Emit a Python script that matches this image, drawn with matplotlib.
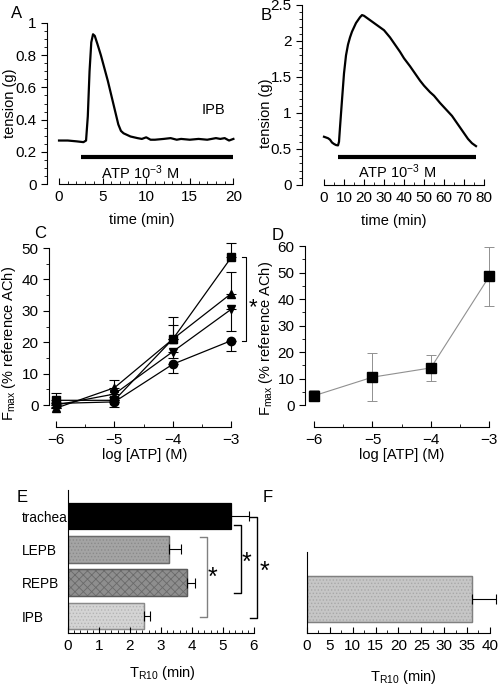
import numpy as np
import matplotlib
matplotlib.use("Agg")
import matplotlib.pyplot as plt
from matplotlib.ticker import FixedLocator

plt.rcParams['font.family'] = ['Liberation Sans', 'DejaVu Sans']
plt.rcParams['mathtext.fontset'] = 'custom'
plt.rcParams['mathtext.rm'] = 'Liberation Sans'
plt.rcParams['mathtext.it'] = 'Liberation Sans:italic'
plt.rcParams['font.size'] = 10
plt.rcParams['hatch.linewidth'] = 0.6

# ---------------- data ----------------
# Panel A trace (IPB)
a_time = [0, 1, 2, 2.8, 3.1, 3.3, 3.5, 3.7, 3.9, 4.1, 4.4, 4.8, 5.2, 5.6, 6.0, 6.4, 6.8, 7.1, 7.4,
          7.8, 8.2, 8.6, 9.0, 9.5, 10, 10.5, 11, 12, 12.8, 13.5, 14, 15, 16, 17, 18, 18.5, 19, 19.5, 20]
a_tension = [0.27, 0.27, 0.265, 0.26, 0.27, 0.42, 0.70, 0.88, 0.93, 0.92, 0.87, 0.80, 0.72, 0.64, 0.55,
             0.46, 0.37, 0.33, 0.315, 0.305, 0.295, 0.29, 0.285, 0.28, 0.29, 0.275, 0.275, 0.28, 0.285,
             0.275, 0.28, 0.275, 0.28, 0.275, 0.285, 0.28, 0.285, 0.27, 0.28]
a_atp_bar = [2.5, 20]

# Panel B trace (trachea)
b_time = [0, 1, 2, 3, 4, 5, 6, 7, 7.5, 8, 9, 10, 11, 12, 13, 14, 16, 18, 19, 20, 22, 25, 28, 30, 33,
          35, 38, 40, 43, 45, 48, 50, 53, 55, 58, 60, 64, 68, 70, 72, 74, 76]
b_tension = [0.67, 0.66, 0.65, 0.63, 0.59, 0.57, 0.555, 0.55, 0.6, 0.8, 1.18, 1.55, 1.8, 1.95, 2.05, 2.13,
             2.25, 2.33, 2.36, 2.35, 2.31, 2.25, 2.19, 2.15, 2.05, 1.97, 1.85, 1.76, 1.65, 1.57, 1.45,
             1.38, 1.29, 1.24, 1.14, 1.08, 0.96, 0.80, 0.72, 0.64, 0.58, 0.54]
b_atp_bar = [7, 76]

# Panel C concentration-response
log_atp = [-6, -5, -4, -3]
c_square = [1.5, 1.5, 21, 47]
c_square_err = [2.3, 1.0, 7.0, 4.5]
c_triup = [-1.0, 5.5, 21, 35.5]
c_triup_err = [1.0, 2.5, 4.5, 7.0]
c_tridown = [0.0, 3.5, 17, 30.5]
c_tridown_err = [1.0, 2.0, 2.0, 7.0]
c_circle = [0.5, 1.0, 13, 20.5]
c_circle_err = [1.0, 1.5, 2.7, 3.3]

# Panel D
d_fmax = [3.5, 10.5, 14, 48.5]
d_err = [2.0, 9.0, 5.0, 11.0]

# Panel E
e_tissues = ['trachea', 'LEPB', 'REPB', 'IPB']
e_tr10 = [5.25, 3.25, 3.85, 2.45]
e_err = [0.6, 0.4, 0.25, 0.2]

# Panel F
f_tr10 = [36.2]
f_err = [5.2]

W, H = 504, 688
fig = plt.figure(figsize=(W / 100, H / 100), dpi=100)


def add_ax(left, top, right, bottom):
    return fig.add_axes([left / W, 1 - bottom / H, (right - left) / W, (bottom - top) / H])


def style(ax):
    ax.spines['top'].set_visible(False)
    ax.spines['right'].set_visible(False)
    ax.tick_params(axis='y', which='major', direction='out', length=4, width=0.8, labelsize=11)
    ax.tick_params(axis='y', which='minor', direction='out', length=2, width=0.6)
    ax.tick_params(axis='x', which='major', direction='in', length=4, width=0.8, labelsize=11, pad=4)
    ax.tick_params(axis='x', which='minor', direction='in', length=2.5, width=0.6)
    ax.patch.set_alpha(0)


def minor(lo, hi, step):
    return FixedLocator(np.arange(lo, hi + step / 2, step))


def ylabel_at(ax, text, xpx, ypx, box):
    # xpx / ypx: desired centre of the rotated label, in figure pixels
    left, top, right, bottom = box
    ax.set_ylabel(text, fontsize=10.5)
    ax.yaxis.set_label_coords((xpx + 6 - left) / (right - left), (bottom - ypx) / (bottom - top))


# ---------------- Panel A ----------------
boxA = (47, 23, 236, 184)
axA = add_ax(*boxA)
axA.plot(a_time, a_tension, color='black', lw=1.6)
axA.plot(a_atp_bar, [0.17, 0.17], color='black', lw=3, solid_capstyle='butt')
axA.set_xlim(-1.38, 20.3)
axA.set_ylim(0, 1)
style(axA)
axA.spines['left'].set_bounds(0, 1)
axA.spines['bottom'].set_bounds(0, 20)
axA.set_yticks([0, 0.2, 0.4, 0.6, 0.8, 1])
axA.set_yticklabels(['0', '0.2', '0.4', '0.6', '0.8', '1'])
axA.yaxis.set_minor_locator(minor(0, 1, 0.05))
axA.set_xticks([0, 5, 10, 15, 20])
axA.xaxis.set_minor_locator(minor(0, 20, 1))
axA.text(9.3, 0.07, 'ATP 10$^{-3}$ M', ha='center', va='center', fontsize=10.5)
axA.text(17.7, 0.46, 'IPB', ha='center', va='center', fontsize=10.5)
ylabel_at(axA, 'tension (g)', 11, 103, boxA)
axA.set_xlabel('time (min)', fontsize=10.5, labelpad=7)
fig.text(17 / W, 1 - 14 / H, 'A', fontsize=12, ha='center', va='center')

# ---------------- Panel B ----------------
boxB = (302, 5, 486, 185)
axB = add_ax(*boxB)
axB.plot(b_time, b_tension, color='black', lw=1.6)
axB.plot(b_atp_bar, [0.39, 0.39], color='black', lw=3, solid_capstyle='butt')
axB.set_xlim(-11, 81)
axB.set_ylim(0, 2.5)
style(axB)
axB.spines['left'].set_bounds(0, 2.5)
axB.spines['bottom'].set_bounds(0, 80)
axB.set_yticks([0, 0.5, 1, 1.5, 2, 2.5])
axB.set_yticklabels(['0', '0.5', '1', '1.5', '2', '2.5'])
axB.yaxis.set_minor_locator(minor(0, 2.5, 0.1))
axB.set_xticks(range(0, 81, 10))
axB.xaxis.set_minor_locator(minor(0, 80, 5))
axB.text(36.5, 0.18, 'ATP 10$^{-3}$ M', ha='center', va='center', fontsize=10.5)
ylabel_at(axB, 'tension (g)', 267, 113, boxB)
axB.set_xlabel('time (min)', fontsize=10.5, labelpad=7)
fig.text(266 / W, 1 - 15 / H, 'B', fontsize=12, ha='center', va='center')

# ---------------- Panel C ----------------
boxC = (49, 248, 240, 427)
axC = add_ax(*boxC)
series = [(c_square, c_square_err, 's', 'upper'),
          (c_triup, c_triup_err, '^', 'upper'),
          (c_tridown, c_tridown_err, 'v', 'lower'),
          (c_circle, c_circle_err, 'o', 'lower')]
for vals, errs, mk, side in series:
    if side == 'upper':
        yerr = [np.zeros(len(errs)), errs]
    else:
        yerr = [errs, np.zeros(len(errs))]
    axC.errorbar(log_atp, vals, yerr=yerr, color='black', lw=0.9, marker=mk, ms=6,
                 capsize=3.5, elinewidth=0.8, capthick=0.8, clip_on=False)
axC.set_xlim(-6.12, -2.85)
axC.set_ylim(-7, 50)
style(axC)
axC.spines['left'].set_bounds(0, 50)
axC.spines['bottom'].set_bounds(-6, -3)
axC.set_yticks([0, 10, 20, 30, 40, 50])
axC.yaxis.set_minor_locator(minor(0, 50, 5))
axC.set_xticks([-6, -5, -4, -3])
axC.xaxis.set_minor_locator(minor(-6, -3, 0.5))
ylabel_at(axC, 'F$_{\\mathrm{max}}$ (% reference ACh)', 12, 343, boxC)
axC.set_xlabel('log [ATP] (M)', fontsize=10.5, labelpad=1)
# significance bracket
bx = -2.74
axC.plot([bx - 0.08, bx, bx, bx - 0.08], [47, 47, 20.5, 20.5], color='black', lw=0.8, clip_on=False)
axC.text(bx + 0.12, 31, '*', fontsize=16, ha='center', va='center', clip_on=False)
fig.text(40 / W, 1 - 234 / H, 'C', fontsize=12, ha='center', va='center')

# ---------------- Panel D ----------------
boxD = (305, 246, 498, 427)
axD = add_ax(*boxD)
axD.errorbar(log_atp, d_fmax, yerr=d_err, color='#909090', lw=0.8, marker='s', ms=6.5,
             mfc='black', mec='black', capsize=3.5, elinewidth=0.7, capthick=0.7, ecolor='#909090',
             clip_on=False)
axD.set_xlim(-6.155, -2.85)
axD.set_ylim(-8.3, 60)
style(axD)
axD.spines['left'].set_bounds(0, 60)
axD.spines['bottom'].set_bounds(-6, -3)
axD.set_yticks([0, 10, 20, 30, 40, 50, 60])
axD.yaxis.set_minor_locator(minor(0, 60, 5))
axD.set_xticks([-6, -5, -4, -3])
axD.xaxis.set_minor_locator(minor(-6, -3, 0.5))
ylabel_at(axD, 'F$_{\\mathrm{max}}$ (% reference ACh)', 269, 338, boxD)
axD.set_xlabel('log [ATP] (M)', fontsize=10.5, labelpad=1)
fig.text(278 / W, 1 - 235 / H, 'D', fontsize=12, ha='center', va='center')

# ---------------- Panel E ----------------
boxE = (68, 490, 257, 633)
axE = add_ax(*boxE)
e_pos = [3, 2, 1, 0]
e_face = ['black', '#a4a4a4', '#8e8e8e', '#d4d4d4']
e_hatch = [None, '.....', 'xxxx', '.....']
e_hcol = ['black', '#8a8a8a', '#6a6a6a', '#b4b4b4']
e_edge = ['black', '#6a6a6a', '#5a5a5a', '#8a8a8a']
for p, v, er, fc, hc, hcol, ec in zip(e_pos, e_tr10, e_err, e_face, e_hatch, e_hcol, e_edge):
    axE.barh(p, v, height=0.8, color=fc, edgecolor=ec, lw=0.9)
    if hc:
        axE.barh(p, v, height=0.8, facecolor='none', edgecolor=hcol, hatch=hc, lw=0)
        axE.barh(p, v, height=0.8, facecolor='none', edgecolor=ec, lw=0.9)
    axE.errorbar(v, p, xerr=[[0], [er]], color='black', capsize=3.5, elinewidth=0.8,
                 capthick=0.8, clip_on=False)
axE.set_xlim(0, 6.1)
axE.set_ylim(-0.51, 3.78)
style(axE)
axE.spines['bottom'].set_bounds(0, 6)
axE.set_xticks(range(0, 7))
axE.xaxis.set_minor_locator(minor(0, 6, 0.2))
axE.set_yticks(e_pos)
axE.set_yticklabels(e_tissues, fontsize=9.8, ha='left')
axE.tick_params(axis='y', which='both', length=0, pad=33)
axE.set_xlabel('T$_{\\mathrm{R10}}$ (min)', fontsize=10.5, labelpad=8)


def bracket(ax, x, y1, y2, color, starx, stary):
    ax.plot([x - 0.22, x, x, x - 0.22], [y1, y1, y2, y2], color=color, lw=1.0, clip_on=False)
    ax.text(starx, stary, '*', fontsize=18, ha='center', va='center', clip_on=False)


bracket(axE, 4.48, 2.37, -0.03, '#808080', 4.65, 1.15)
bracket(axE, 5.58, 2.73, 0.69, 'black', 5.77, 1.6)
bracket(axE, 6.1, 2.97, -0.06, 'black', 6.35, 1.32)
fig.text(22 / W, 1 - 498 / H, 'E', fontsize=12, ha='center', va='center')

# ---------------- Panel F ----------------
axF = add_ax(307, 552, 499, 633)
axF.barh(0, f_tr10[0], height=1.0, color='#c6c6c6', edgecolor='#808080', lw=0.9)
axF.barh(0, f_tr10[0], height=1.0, facecolor='none', edgecolor='#a8a8a8', hatch='.....', lw=0)
axF.barh(0, f_tr10[0], height=1.0, facecolor='none', edgecolor='#808080', lw=0.9)
axF.errorbar(f_tr10[0], 0, xerr=[[0], [f_err[0]]], color='black', capsize=3.5, elinewidth=0.8,
             capthick=0.8, clip_on=False)
axF.set_xlim(0, 42)
axF.set_ylim(-0.74, 1.02)
style(axF)
axF.spines['bottom'].set_bounds(0, 40)
axF.set_xticks(range(0, 41, 5))
axF.xaxis.set_minor_locator(minor(0, 40, 2.5))
axF.set_yticks([])
axF.set_xlabel('T$_{\\mathrm{R10}}$ (min)', fontsize=10.5, labelpad=11)
fig.text(268 / W, 1 - 498 / H, 'F', fontsize=12, ha='center', va='center')

fig.savefig('out.png', dpi=100)
